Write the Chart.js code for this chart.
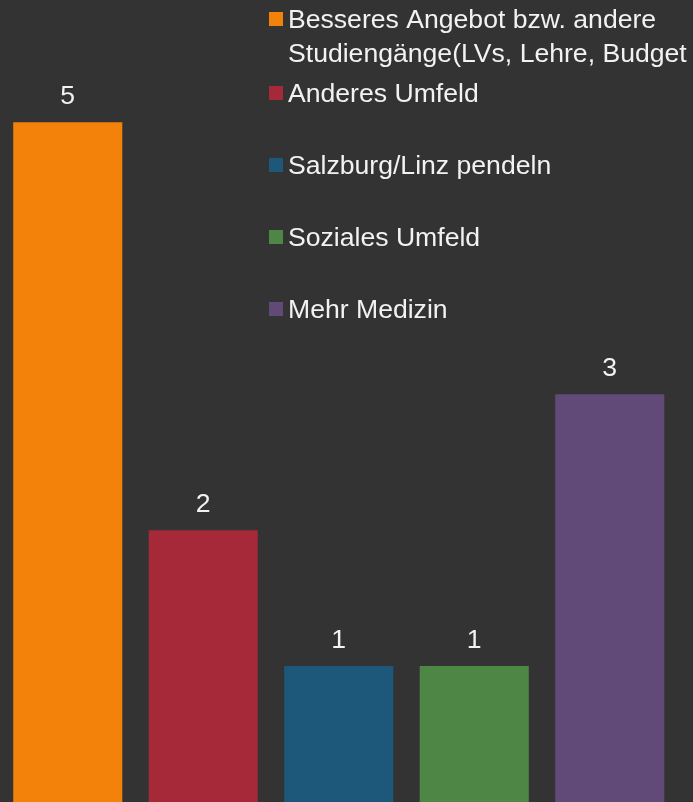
<!DOCTYPE html>
<html>
<head>
<meta charset="utf-8">
<script src="https://cdn.jsdelivr.net/npm/chart.js@4/dist/chart.umd.min.js"></script>
<style>
  html, body { margin: 0; padding: 0; background: #333333; }
  #wrap { width: 693px; height: 802px; position: relative; }
</style>
</head>
<body>
<div id="wrap"><canvas id="chart"></canvas></div>
<script>
// Chart data
const categories = [
    ['Besseres Angebot bzw. andere', 'Studiengänge(LVs, Lehre, Budget'],
    ['Anderes Umfeld'],
    ['Salzburg/Linz pendeln'],
    ['Soziales Umfeld'],
    ['Mehr Medizin']
];
const counts = [5, 2, 1, 1, 3];
const barColors = ['#F2820A', '#A52939', '#1D587B', '#4E8645', '#614A78'];

const textFont = '26.6px "Liberation Sans", Arial, sans-serif';
const textColor = '#F2F2F2';

// Value labels above bars
const valueLabels = {
    id: 'valueLabels',
    afterDatasetsDraw(chart) {
        const ctx = chart.ctx;
        const meta = chart.getDatasetMeta(0);
        ctx.save();
        ctx.font = textFont;
        ctx.fillStyle = textColor;
        ctx.textAlign = 'center';
        ctx.textBaseline = 'alphabetic';
        meta.data.forEach((bar, i) => {
            ctx.fillText(String(counts[i]), bar.x, bar.y - 18);
        });
        ctx.restore();
    }
};

// Legend drawn inside the plot, top right
const sideLegend = {
    id: 'sideLegend',
    afterDraw(chart) {
        const ctx = chart.ctx;
        const boxX = 269, textX = 288;
        let baseline = 28;
        ctx.save();
        ctx.font = textFont;
        ctx.textBaseline = 'alphabetic';
        ctx.textAlign = 'left';
        categories.forEach((lines, i) => {
            ctx.fillStyle = barColors[i];
            ctx.fillRect(boxX, baseline - 16, 14, 14);
            ctx.fillStyle = textColor;
            lines.forEach((line, j) => {
                ctx.fillText(line, textX, baseline + j * 34);
            });
            baseline += (i === 0) ? 74 : 72;
        });
        ctx.restore();
    }
};

new Chart(document.getElementById('chart'), {
    type: 'bar',
    data: {
        labels: categories.map(c => c.join(' ')),
        datasets: [{
            data: counts,
            backgroundColor: barColors,
            borderWidth: 0,
            barPercentage: 0.805,
            categoryPercentage: 1
        }]
    },
    options: {
        responsive: true,
        maintainAspectRatio: false,
        animation: false,
        layout: { padding: { left: 0, right: 15.5, top: 0, bottom: 0 } },
        plugins: {
            legend: { display: false },
            tooltip: { enabled: false }
        },
        scales: {
            x: { display: false },
            y: { display: false, min: 0, max: 5.9 }
        }
    },
    plugins: [valueLabels, sideLegend]
});
</script>
</body>
</html>
